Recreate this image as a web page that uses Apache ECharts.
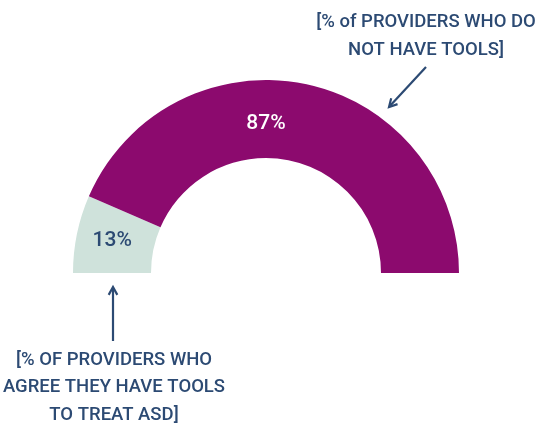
<!DOCTYPE html>
<html>
<head>
<meta charset="utf-8">
<style>html,body{margin:0;padding:0;background:#fff;}#c{width:537px;height:430px;}</style>
<script src="https://cdn.jsdelivr.net/npm/echarts@6/dist/echarts.min.js"></script>
</head>
<body>
<div id="c"></div>
<script>
const categories = ['% OF PROVIDERS WHO AGREE THEY HAVE TOOLS TO TREAT ASD', '% of PROVIDERS WHO DO NOT HAVE TOOLS'];
const values = [13, 87];
const calloutTop = ['[% of PROVIDERS WHO DO', 'NOT HAVE TOOLS]'];
const calloutBottom = ['[% OF PROVIDERS WHO', 'AGREE THEY HAVE TOOLS', 'TO TREAT ASD]'];

const NAVY = '#2C4A73';
const FONT = 'Roboto, "Noto Sans", sans-serif';
const chart = echarts.init(document.getElementById('c'), null, {renderer: 'canvas'});

function arrow(x1, y1, x2, y2) {
  const ang = Math.atan2(y2 - y1, x2 - x1);
  const L = 9, W = 0.5;
  return [
    {type: 'line', shape: {x1: x1, y1: y1, x2: x2 - Math.cos(ang) * 2, y2: y2 - Math.sin(ang) * 2}, style: {stroke: NAVY, lineWidth: 2.2}},
    {type: 'polyline', shape: {points: [
      [x2 - L * Math.cos(ang - W), y2 - L * Math.sin(ang - W)], [x2, y2], [x2 - L * Math.cos(ang + W), y2 - L * Math.sin(ang + W)]
    ]}, style: {stroke: NAVY, lineWidth: 2.2, fill: null}}
  ];
}

const graphics = [];
calloutTop.forEach((t, i) => graphics.push({type: 'text', style: {text: t, x: 426, y: 22 + i * 28, fill: NAVY, font: '500 18.5px ' + FONT, align: 'center', verticalAlign: 'middle'}}));
calloutBottom.forEach((t, i) => graphics.push({type: 'text', style: {text: t, x: 114, y: 360 + i * 27.5, fill: NAVY, font: '500 18.5px ' + FONT, align: 'center', verticalAlign: 'middle'}}));
graphics.push(...arrow(426, 67, 389, 107));
graphics.push(...arrow(113, 341, 113, 287));
graphics.push({type: 'text', z: 100, style: {text: values[1] + '%', x: 266, y: 124, fill: '#ffffff', font: '500 21px ' + FONT, align: 'center', verticalAlign: 'middle'}});

chart.setOption({
  animation: false,
  series: [{
    type: 'pie',
    center: [266, 273],
    radius: [115, 193],
    startAngle: 180,
    endAngle: 0,
    clockwise: true,
    silent: true,
    labelLine: {show: false},
    data: categories.map((c, i) => ({
      name: c, value: values[i],
      itemStyle: {color: i === 0 ? '#CFE2DB' : '#8C0A6E'},
      label: i === 0
        ? {show: true, position: 'inside', formatter: '{c}%', color: NAVY, fontSize: 21, fontFamily: FONT, fontWeight: 500}
        : {show: false}
    }))
  }],
  graphic: graphics
});
</script>
</body>
</html>
